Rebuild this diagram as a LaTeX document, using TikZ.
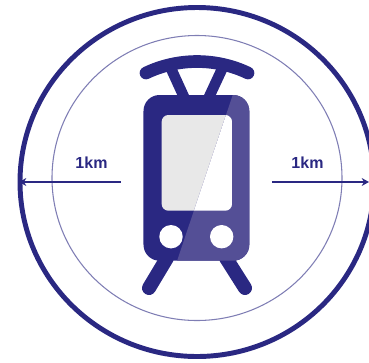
\documentclass[tikz,border=0pt]{standalone}
\usepackage{fontspec}
\setmainfont{Liberation Sans}
\usetikzlibrary{arrows.meta,positioning,calc}
\definecolor{tramblue}{HTML}{2A2882}
\definecolor{tramlight}{HTML}{544F96}
\definecolor{tramglass}{HTML}{E8E8E8}
\begin{document}
\begin{tikzpicture}[x=0.75pt,y=-0.75pt,
  ring/.style={draw=tramblue,line width=3.7pt},
  thinring/.style={draw=tramblue!60,line width=0.8pt},
  bar/.style={draw=tramblue,line width=9.5pt,line cap=round},
  leg/.style={draw=tramblue,line width=10.5pt,line cap=round},
  strut/.style={draw=tramblue,line width=8pt},
  arr/.style={-{Stealth[length=5.5pt,width=6pt]},draw=tramblue,line width=2pt},
  dist/.style={font=\bfseries\fontsize{12}{14}\selectfont,text=tramblue,inner sep=0pt}]
\useasboundingbox (0,0) rectangle (369,362);
\clip (0,0) rectangle (369,362);
% rings
\draw[ring] (197,182) ellipse (177 and 174.5);
\draw[thinring] (197,178) ellipse (145 and 142.5);
% pantograph and legs
\draw[strut] (170.3,67)--(184,97);
\draw[strut] (223,67)--(209,97);
\draw[bar] (146,73) .. controls (178,57.7) and (216,57.7) .. (248,73);
\draw[leg] (167,258)--(149,288);
\draw[leg] (226,258)--(245,288);
% body
\fill[tramblue,rounded corners=12pt] (143.5,95) rectangle (249.3,260.7);
\fill[tramglass,rounded corners=5pt] (161.7,115) rectangle (232,210.7);
\fill[white] (171,236.7) circle (11.7);
\fill[white] (221.7,236.7) circle (11.7);
% lighter half
\begin{scope}
\clip (232.7,95)--(177,261)--(250,261)--(250,95)--cycle;
\fill[tramlight,rounded corners=12pt] (143.5,95) rectangle (249.3,260.7);
\fill[white,rounded corners=5pt] (161.7,115) rectangle (232,210.7);
\fill[white] (221.7,236.7) circle (11.7);
\end{scope}
% distances
\coordinate (lefttail) at (121,182);
\coordinate (lefttip) at (19,182);
\coordinate (righttail) at (272,182);
\coordinate (righttip) at (369,182);
\draw[arr] (lefttail)--(lefttip);
\draw[arr] (righttail)--(righttip);
\node[dist] (leftkm) at (91.5,163) {1km};
\node[dist] (rightkm) at (307.5,163) {1km};
\end{tikzpicture}
\end{document}
